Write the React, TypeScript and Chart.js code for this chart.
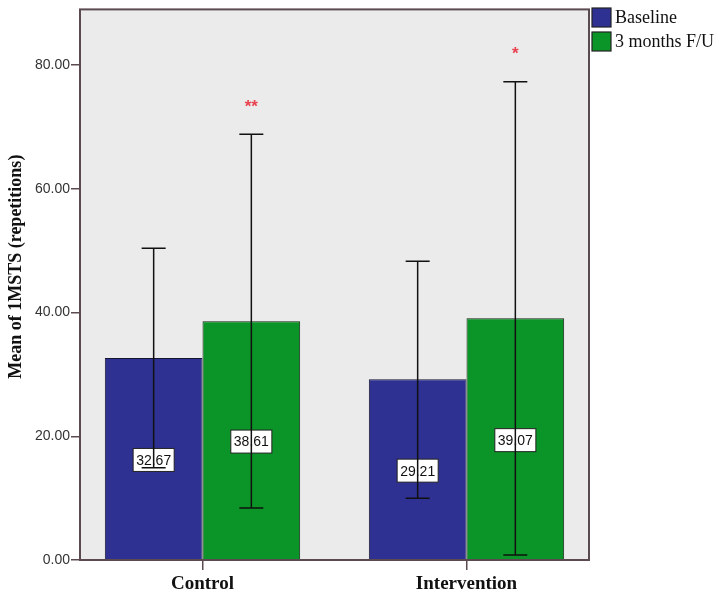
import { useEffect, useRef } from 'react';
import Chart from 'chart.js/auto';

// Mean 1MSTS by group, baseline vs 3-month follow-up, with error bars.
const categories = ['Control', 'Intervention'];
const seriesNames = ['Baseline', '3 months F/U'];
const baselineMean = [32.67, 29.21];
const followUpMean = [38.61, 39.07];
const baselineLow = [14.9, 10.0];
const baselineHigh = [50.4, 48.3];
const followUpLow = [8.4, 0.8];
const followUpHigh = [68.8, 77.3];
const baselineStars = ['', ''];
const followUpStars = ['**', '*'];
const yTitle = 'Mean of 1MSTS (repetitions)';
const yMax = 89;
const yStep = 20;

const BLUE = '#2e3192';
const GREEN = '#0b9427';
const FRAME = '#5b4b50';
const PLOT_BG = '#ecebec';
const INK = '#111111';
const SERIF = '"Liberation Serif", "Times New Roman", serif';
const SANS = '"Liberation Sans", Arial, sans-serif';

const plotArea = {
  id: 'plotArea',
  beforeDatasetsDraw(chart: any) {
    const { ctx, chartArea: a } = chart;
    ctx.save();
    ctx.fillStyle = PLOT_BG;
    ctx.fillRect(a.left, a.top, a.right - a.left, a.bottom - a.top);
    ctx.restore();
  },
  afterDraw(chart: any) {
    const { ctx, chartArea: a } = chart;
    ctx.save();
    ctx.strokeStyle = FRAME;
    ctx.lineWidth = 2;
    ctx.strokeRect(a.left, a.top, a.right - a.left, a.bottom - a.top);

    // y axis title, sitting a little above the axis middle as in SPSS output
    ctx.translate(16, (a.top + a.bottom) / 2 - 18);
    ctx.rotate(-Math.PI / 2);
    ctx.fillStyle = INK;
    ctx.font = `bold 18px ${SERIF}`;
    ctx.textAlign = 'center';
    ctx.textBaseline = 'middle';
    ctx.fillText(yTitle, 0, 0);
    ctx.restore();
  },
};

const barExtras = {
  id: 'barExtras',
  afterDatasetsDraw(chart: any) {
    const { ctx } = chart;
    const y = chart.scales.y;
    ctx.save();
    chart.data.datasets.forEach((ds: any, di: number) => {
      const meta = chart.getDatasetMeta(di);
      meta.data.forEach((bar: any, i: number) => {
        const mean = ds.data[i].y;
        // value label in the middle of the bar
        const txt = mean.toFixed(2);
        ctx.font = `14px ${SANS}`;
        const w = ctx.measureText(txt).width + 6;
        const h = 23;
        const cy = y.getPixelForValue(mean / 2) + 1;
        ctx.fillStyle = '#ffffff';
        ctx.fillRect(bar.x - w / 2, cy - h / 2, w, h);
        ctx.strokeStyle = '#222222';
        ctx.lineWidth = 1;
        ctx.strokeRect(bar.x - w / 2, cy - h / 2, w, h);
        ctx.fillStyle = INK;
        ctx.textAlign = 'center';
        ctx.textBaseline = 'middle';
        ctx.fillText(txt, bar.x, cy + 1);

        // error bar
        const top = y.getPixelForValue(ds.errHigh[i]);
        const bot = y.getPixelForValue(ds.errLow[i]);
        ctx.strokeStyle = INK;
        ctx.lineWidth = 1.5;
        ctx.beginPath();
        ctx.moveTo(bar.x, top);
        ctx.lineTo(bar.x, bot);
        ctx.moveTo(bar.x - 12, top);
        ctx.lineTo(bar.x + 12, top);
        ctx.moveTo(bar.x - 12, bot);
        ctx.lineTo(bar.x + 12, bot);
        ctx.stroke();

        const star = ds.stars[i];
        if (star) {
          ctx.fillStyle = '#e8424e';
          ctx.font = `bold 17px ${SANS}`;
          ctx.textBaseline = 'middle';
          ctx.fillText(star, bar.x, top - 27);
        }
      });
    });
    ctx.restore();
  },
};

const sideLegend = {
  id: 'sideLegend',
  afterDraw(chart: any) {
    const { ctx, chartArea: a } = chart;
    ctx.save();
    chart.data.datasets.forEach((ds: any, i: number) => {
      const x = a.right + 3;
      const yTop = 8 + i * 24;
      ctx.fillStyle = ds.backgroundColor;
      ctx.fillRect(x, yTop, 19, 19);
      ctx.strokeStyle = '#222222';
      ctx.lineWidth = 1.2;
      ctx.strokeRect(x, yTop, 19, 19);
      ctx.fillStyle = INK;
      ctx.font = `18px ${SERIF}`;
      ctx.textAlign = 'left';
      ctx.textBaseline = 'middle';
      ctx.fillText(ds.label, x + 23, yTop + 10);
    });
    ctx.restore();
  },
};

export default function App() {
  const canvasRef = useRef<HTMLCanvasElement | null>(null);

  useEffect(() => {
    const el = canvasRef.current;
    if (!el) return;

    const toPoints = (vals: number[]) => vals.map((v, i) => ({ x: i, y: v }));

    const chart = new Chart(el, {
      type: 'bar',
      data: {
        datasets: [
          {
            label: seriesNames[0],
            data: toPoints(baselineMean),
            backgroundColor: BLUE,
            borderColor: '#161630',
            borderWidth: 1,
            errLow: baselineLow,
            errHigh: baselineHigh,
            stars: baselineStars,
          } as any,
          {
            label: seriesNames[1],
            data: toPoints(followUpMean),
            backgroundColor: GREEN,
            borderColor: '#142414',
            borderWidth: 1,
            errLow: followUpLow,
            errHigh: followUpHigh,
            stars: followUpStars,
          } as any,
        ],
      },
      options: {
        responsive: true,
        maintainAspectRatio: false,
        animation: false,
        layout: { padding: { top: 6, right: 135, left: 0, bottom: 0 } },
        datasets: { bar: { categoryPercentage: 0.74, barPercentage: 1 } },
        scales: {
          x: {
            type: 'linear',
            offset: false,
            min: -0.464,
            max: 1.464,
            afterBuildTicks: (scale: any) => {
              scale.ticks = categories.map((_, i) => ({ value: i }));
            },
            afterFit: (scale: any) => {
              scale.height = 39;
            },
            ticks: {
              callback: (v: any) => categories[v] ?? '',
              color: INK,
              padding: 3,
              maxRotation: 0,
              font: { family: SERIF, size: 19, weight: 'bold' },
            },
            grid: { offset: false, drawOnChartArea: false, color: FRAME, lineWidth: 1.5, tickLength: 10 },
            border: { display: false },
          },
          y: {
            min: 0,
            max: yMax,
            afterFit: (scale: any) => {
              scale.width = 80;
            },
            ticks: {
              stepSize: yStep,
              includeBounds: false,
              callback: (v: any) => Number(v).toFixed(2),
              color: '#333333',
              padding: 1,
              font: { family: SANS, size: 14 },
            },
            grid: { drawOnChartArea: false, color: FRAME, lineWidth: 1.5, tickLength: 9 },
            border: { display: false },
            title: { display: false },
          },
        },
        plugins: {
          legend: { display: false },
          tooltip: { enabled: false },
        },
      },
      plugins: [plotArea, barExtras, sideLegend],
    });

    return () => chart.destroy();
  }, []);

  return (
    <div style={{ position: 'absolute', left: 0, top: 0, width: 724, height: 599, background: '#ffffff' }}>
      <canvas ref={canvasRef} />
    </div>
  );
}
